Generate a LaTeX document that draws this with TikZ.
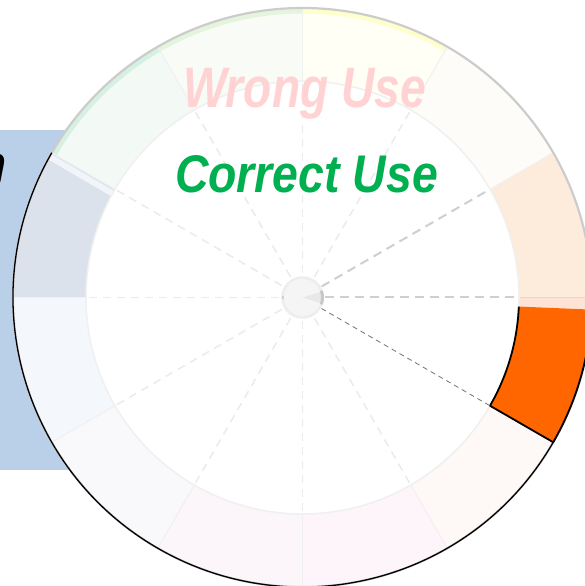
\documentclass[tikz,border=0pt]{standalone}
\usepackage{fontspec}
\setmainfont{Liberation Sans}
\definecolor{boxblue}{HTML}{B9D0E8}
\definecolor{wrongred}{HTML}{FFD3D3}
\definecolor{okgreen}{HTML}{00B050}
\definecolor{hot}{HTML}{FF6600}
\def\ro{289.5pt}
\def\ri{216.5pt}
\newcommand\wheelseg[3]{\fill[#3] (#1:\ro) arc[start angle=#1,end angle=#2,radius=\ro] -- (#2:\ri) arc[start angle=#2,end angle=#1,radius=\ri] -- cycle;}
\newcommand\rimband[3]{\fill[#3] (#1:\ro) arc[start angle=#1,end angle=#2,radius=\ro] -- (#2:284pt) arc[start angle=#2,end angle=#1,radius=284pt] -- cycle;}
\tikzset{
  bigtext/.style={font=\fontsize{53}{60}\selectfont\bfseries\itshape, inner sep=0pt, anchor=base},
  lightspoke/.style={draw=black!8, line width=1.5pt, dash pattern=on 8pt off 6pt},
  midspoke/.style={draw=black!19, line width=2pt, dash pattern=on 9pt off 6pt},
  darkspoke/.style={draw=black!55, line width=0.8pt, dash pattern=on 5pt off 4pt},
  segline/.style={draw=black!6, line width=1pt}
}
\begin{document}
\begin{tikzpicture}[x=1pt,y=1pt]
\useasboundingbox (0,0) rectangle (585,586);
\clip (0,0) rectangle (585,586);
% blue panel behind the wheel
\fill[boxblue] (-5,116) rectangle (200,456);
\node[bigtext, anchor=base east, text=black] (frag) at (7,403) {n};
\coordinate (C) at (302.5,288.5);
\begin{scope}[shift={(C)}]
  \fill[white] (0,0) circle[radius=\ro];
  \wheelseg{0}{30}{fill={rgb,255:red,253;green,235;blue,219}}
  \wheelseg{30}{60}{fill={rgb,255:red,254;green,252;blue,248}}
  \wheelseg{60}{90}{fill={rgb,255:red,255;green,255;blue,245}}
  \wheelseg{90}{120}{fill={rgb,255:red,249;green,252;blue,246}}
  \wheelseg{120}{150}{fill={rgb,255:red,243;green,250;blue,246}}
  \wheelseg{150}{180}{fill={rgb,255:red,220;green,226;blue,235}}
  \wheelseg{180}{210}{fill={rgb,255:red,244;green,248;blue,252}}
  \wheelseg{210}{240}{fill={rgb,255:red,249;green,249;blue,252}}
  \wheelseg{240}{270}{fill={rgb,255:red,252;green,245;blue,250}}
  \wheelseg{270}{300}{fill={rgb,255:red,253;green,245;blue,250}}
  \wheelseg{300}{330}{fill={rgb,255:red,254;green,248;blue,246}}
  \wheelseg{-2.4}{0}{fill={rgb,255:red,252;green,227;blue,211}}
  \rimband{60}{90}{fill={rgb,255:red,255;green,255;blue,204}}
  \rimband{90}{120}{fill={rgb,255:red,229;green,245;blue,221}}
  \rimband{120}{150}{fill={rgb,255:red,214;green,240;blue,225}}
  % light strip at the 150 degree edge
  \draw[line width=6pt, draw={rgb,255:red,241;green,244;blue,248}] (151.3:\ri) -- (150.9:\ro);
  % segment boundaries
  \foreach \a in {30,60,...,300} {\draw[segline] (\a:\ri) -- (\a:\ro);}
  \draw[draw=black!15, line width=1.5pt] (0:\ri) -- (0:\ro);
  \draw[draw=black!6, line width=1.5pt] (0,0) circle[radius=\ri];
  % outer rim
  \draw[draw=black!20, line width=2.2pt] (0,0) circle[radius=\ro];
  \draw[black, line width=1.3pt] (150:\ro) arc[start angle=150,end angle=330,radius=\ro];
  % highlighted segment
  \fill[hot] (-30:\ro) arc[start angle=-30,end angle=-2.4,radius=\ro] -- (-2.4:\ri) arc[start angle=-2.4,end angle=-30,radius=\ri] -- cycle;
  \draw[black, line width=1.8pt, line join=round] (-2.4:\ri) arc[start angle=-2.4,end angle=-30,radius=\ri] -- (-30:\ro) arc[start angle=-30,end angle=-1,radius=\ro];
  % spokes
  \foreach \a in {60,90,...,300} {\draw[lightspoke] (\a:24pt) -- (\a:\ri);}
  \draw[midspoke] (0:22pt) -- (0:\ri);
  \draw[midspoke] (30:22pt) -- (30:\ri);
  \draw[darkspoke] (-30:22pt) -- (-30:\ri);
  % hub
  \filldraw[fill=black!4, draw=black!7, line width=2.5pt] (0,0) circle[radius=20pt];
  \fill[black!9] (0,0) -- (-17:19pt) arc[start angle=-17,end angle=17,radius=19pt] -- cycle;
  \draw[black!22, line width=3pt] (-20:20pt) arc[start angle=-20,end angle=20,radius=20pt];
  \draw[black!18, line width=2pt] (175:20pt) arc[start angle=175,end angle=185,radius=20pt];
\end{scope}
\node[bigtext, font=\fontsize{57}{60}\selectfont\bfseries\itshape, text=wrongred, xscale=0.81] (wrong) at (304.5,478) {Wrong Use};
\node[bigtext, text=okgreen, xscale=0.875] (correct) at (306.5,393) {Correct Use};
\end{tikzpicture}
\end{document}
